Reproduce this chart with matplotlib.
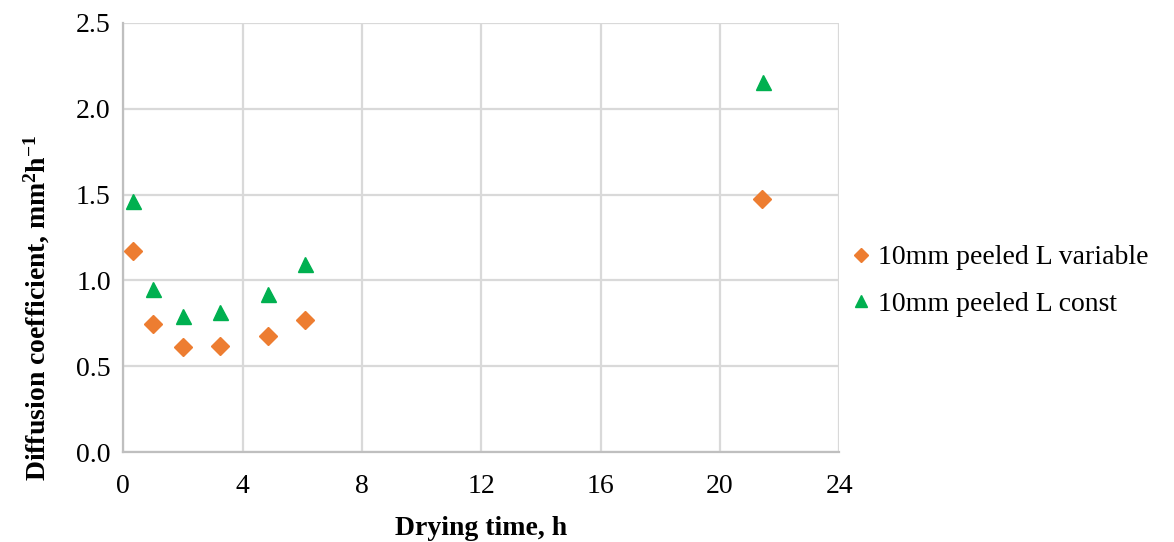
import numpy as np
import matplotlib.pyplot as plt

# données
time_var = [0.31, 0.98, 1.99, 3.24, 4.84, 6.08, 21.42]
diff_var = [1.17, 0.745, 0.612, 0.618, 0.675, 0.772, 1.473]
time_const = [0.33, 0.98, 1.99, 3.24, 4.84, 6.08, 21.44]
diff_const = [1.462, 0.948, 0.795, 0.818, 0.921, 1.094, 2.155]

x_ticks = [0, 4, 8, 12, 16, 20, 24]
y_ticks = [0.0, 0.5, 1.0, 1.5, 2.0, 2.5]

plt.rcParams['font.family'] = ['Liberation Serif', 'DejaVu Serif']
plt.rcParams['mathtext.fontset'] = 'custom'
plt.rcParams['mathtext.rm'] = 'Liberation Serif'
plt.rcParams['mathtext.bf'] = 'Liberation Serif:bold'

fig = plt.figure(figsize=(11.74, 5.42), dpi=100)
ax = fig.add_axes([0.1050, 0.166, 0.6100, 0.7916])

ax.plot(time_var, diff_var, linestyle='none', marker='D', markersize=8.8,
        color='#ED7D31', label='10mm peeled L variable', zorder=3)
ax.plot(time_const, diff_const, linestyle='none', marker='^', markersize=10.8,
        color='#00B050', label='10mm peeled L const', zorder=3)

ax.set_xlim(0, 24)
ax.set_ylim(0, 2.5)
ax.set_xticks(x_ticks)
ax.set_yticks(y_ticks)
ax.set_xticklabels([str(t) for t in x_ticks])
ax.set_yticklabels([f"{t:.1f}" for t in y_ticks])
ax.tick_params(axis='both', length=0, labelsize=20, colors='black')
ax.tick_params(axis='x', pad=16)
ax.tick_params(axis='y', pad=9)

ax.grid(True, color='#d9d9d9', linewidth=1.6)
ax.set_axisbelow(True)
for side in ['top', 'right']:
    ax.spines[side].set_visible(False)
for side in ['left', 'bottom']:
    ax.spines[side].set_color('#bfbfbf')
    ax.spines[side].set_linewidth(1.6)

ax.set_xlabel('Drying time, h', fontsize=20, fontweight='bold', labelpad=12)
ax.set_ylabel(r'Diffusion coefficient, mm$\mathbf{^{2}}$h$\mathbf{^{-1}}$',
              fontsize=20, fontweight='bold')
ax.yaxis.set_label_coords(-0.10, 0.335)

leg = ax.legend(loc='center left', bbox_to_anchor=(0.7, 0.482),
                bbox_transform=fig.transFigure, frameon=False, fontsize=20,
                handletextpad=0.12, markerscale=0.85, labelspacing=0.75,
                handlelength=1.0)

fig.savefig('out.png', dpi=100)
